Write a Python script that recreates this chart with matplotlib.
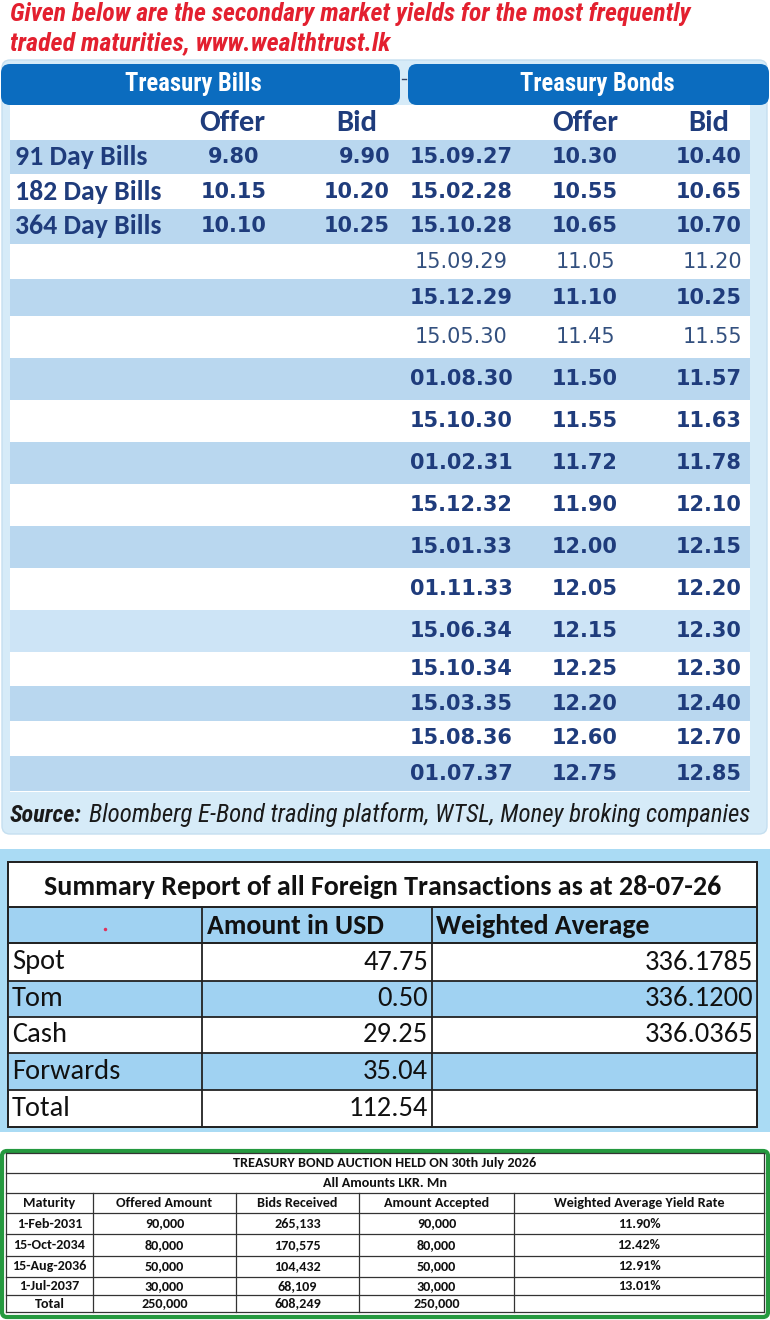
import matplotlib
matplotlib.use("Agg")
import matplotlib.pyplot as plt
from matplotlib.patches import Rectangle, FancyBboxPatch
from matplotlib.font_manager import FontProperties, findfont

# ---- data ----
bill_names = ["91 Day Bills", "182 Day Bills", "364 Day Bills"]
bill_offer = [9.80, 10.15, 10.10]
bill_bid = [9.90, 10.20, 10.25]

bond_dates = ["15.09.27", "15.02.28", "15.10.28", "15.09.29", "15.12.29", "15.05.30",
              "01.08.30", "15.10.30", "01.02.31", "15.12.32", "15.01.33", "01.11.33",
              "15.06.34", "15.10.34", "15.03.35", "15.08.36", "01.07.37"]
bond_offer = [10.30, 10.55, 10.65, 11.05, 11.10, 11.45, 11.50, 11.55, 11.72, 11.90,
              12.00, 12.05, 12.15, 12.25, 12.20, 12.60, 12.75]
bond_bid = [10.40, 10.65, 10.70, 11.20, 10.25, 11.55, 11.57, 11.63, 11.78, 12.10,
            12.15, 12.20, 12.30, 12.30, 12.40, 12.70, 12.85]

fx_types = ["Spot", "Tom", "Cash", "Forwards", "Total"]
fx_amount = [47.75, 0.50, 29.25, 35.04, 112.54]
fx_wavg = [336.1785, 336.1200, 336.0365, None, None]

auc_maturity = ["1-Feb-2031", "15-Oct-2034", "15-Aug-2036", "1-Jul-2037"]
auc_offered = [90000, 80000, 50000, 30000]
auc_bids = [265133, 170575, 104432, 68109]
auc_accepted = [90000, 80000, 50000, 30000]
auc_yield = [11.90, 12.42, 12.91, 13.01]
auc_total = [250000, 608249, 250000]
auc_headers = ["Maturity", "Offered Amount", "Bids Received", "Amount Accepted",
               "Weighted Average Yield Rate"]


def pick(*names):
    for n in names:
        try:
            findfont(FontProperties(family=n), fallback_to_default=False)
            return n
        except Exception:
            pass
    return "DejaVu Sans"


narrow = pick("Liberation Sans Narrow", "Roboto Condensed", "Liberation Sans")
calib = pick("Carlito", "Lato", "Open Sans")
wide = "DejaVu Sans"

navy = "#1f3c7c"
navy_light = "#33507f"
shade = "#b9d7ef"
shade_light = "#cde4f6"
panel = "#d6ebf8"
bar_blue = "#0b6cbf"

fig = plt.figure(figsize=(7.7, 13.2), dpi=100)
ax = fig.add_axes([0, 0, 1, 1])
ax.set_xlim(0, 770)
ax.set_ylim(1320, 0)
ax.axis("off")
renderer = fig.canvas.get_renderer()


def fit(x, y, s, width, **kw):
    t = ax.text(x, y, s, fontsize=10, **kw)
    w = t.get_window_extent(renderer).width
    t.set_fontsize(10 * width / w)
    return t


# ---- heading ----
red = "#e3202f"
fit(10, 14, "Given below are the secondary market yields for the most frequently", 682,
    color=red, family=narrow, weight="bold", style="italic", va="center")
fit(10, 43, "traded maturities, www.wealthtrust.lk", 380,
    color=red, family=narrow, weight="bold", style="italic", va="center")

# ---- secondary market panel ----
ax.add_patch(FancyBboxPatch((2, 60), 765, 774, boxstyle="round,pad=0,rounding_size=8",
                            fc=panel, ec="#c5dff0", lw=1))
ax.add_patch(Rectangle((10, 105), 740, 687, fc="white", ec="none"))
for x0, x1, xc, tw, label in [(1, 400, 193, 137, "Treasury Bills"),
                              (408, 769, 597, 155, "Treasury Bonds")]:
    ax.add_patch(FancyBboxPatch((x0, 64), x1 - x0, 41,
                                boxstyle="round,pad=0,rounding_size=9",
                                fc=bar_blue, ec="none"))
    fit(xc, 84, label, tw, color="white", family=narrow, weight="bold",
        ha="center", va="center")
ax.plot([402, 406], [79, 79], color="#334466", lw=1)

for x, s in [(232, "Offer"), (357, "Bid"), (585, "Offer"), (709, "Bid")]:
    ax.text(x, 123, s, color=navy, family=calib, weight="bold", fontsize=22,
            ha="center", va="center")

row_edges = [140, 174, 209, 244, 279, 316, 358, 400, 442, 484, 526, 568, 610, 652,
             686, 721, 756, 791]
plain_rows = {3, 5}
for i, d in enumerate(bond_dates):
    y0, y1 = row_edges[i], row_edges[i + 1]
    yc = (y0 + y1) / 2
    if i % 2 == 0:
        ax.add_patch(Rectangle((10, y0), 740, y1 - y0,
                               fc=shade_light if i == 12 else shade, ec="none"))
    w = "normal" if i in plain_rows else "bold"
    c = navy_light if i in plain_rows else navy
    ax.text(461, yc, d, color=c, family=wide, weight=w, fontsize=15,
            ha="center", va="center")
    ax.text(585, yc, f"{bond_offer[i]:.2f}", color=c, family=wide, weight=w,
            fontsize=15, ha="center", va="center")
    ax.text(742, yc, f"{bond_bid[i]:.2f}", color=c, family=wide, weight=w,
            fontsize=15, ha="right", va="center")

for i, name in enumerate(bill_names):
    yc = (row_edges[i] + row_edges[i + 1]) / 2
    ax.text(15, yc, name, color=navy, family=calib, weight="bold", fontsize=20,
            ha="left", va="center")
    ax.text(234, yc, f"{bill_offer[i]:.2f}", color=navy, family=wide, weight="bold",
            fontsize=15, ha="center", va="center")
    ax.text(390, yc, f"{bill_bid[i]:.2f}", color=navy, family=wide, weight="bold",
            fontsize=15, ha="right", va="center")

src = fit(10, 815, "Source:", 72, color="#1a1a1a", family=narrow, weight="bold",
          style="italic", va="center")
fit(89, 815, "Bloomberg E-Bond trading platform, WTSL, Money broking companies",
    752 - 89, color="#1a1a1a", family=narrow, style="italic", va="center")

# ---- FX summary ----
fx_blue = "#a0d2f2"
ink = "#111111"
ax.add_patch(Rectangle((0, 849), 770, 283, fc="#aadbf4", ec="none"))
fx_cols = [8, 202, 432, 757]
fx_rows = [862, 907, 943, 981, 1017, 1053, 1090, 1127]
ax.add_patch(Rectangle((8, 862), 749, 265, fc="white", ec="#222222", lw=1.3))
ax.add_patch(Rectangle((8, 907), 749, 36, fc=fx_blue, ec="#222222", lw=1.3))
for i in range(len(fx_types)):
    y0, y1 = fx_rows[i + 2], fx_rows[i + 3]
    if i % 2 == 1:
        ax.add_patch(Rectangle((8, y0), 749, y1 - y0, fc=fx_blue, ec="none"))
for y in fx_rows[1:-1]:
    ax.plot([8, 757], [y, y], color="#222222", lw=1.3)
for x in fx_cols[1:-1]:
    ax.plot([x, x], [907, 1127], color="#222222", lw=1.3)
ax.add_patch(Rectangle((8, 862), 749, 265, fc="none", ec="#222222", lw=1.3))
fit(383, 887, "Summary Report of all Foreign Transactions as at 28-07-26", 673,
    color=ink, family=calib, weight="bold", ha="center", va="center")
ax.text(207, 926, "Amount in USD", color=ink, family=calib, weight="bold",
        fontsize=20, va="center")
ax.text(436, 926, "Weighted Average", color=ink, family=calib, weight="bold",
        fontsize=20, va="center")
ax.plot([105], [929], marker="o", ms=2.5, color="#e0305a", mec="none")
for i, name in enumerate(fx_types):
    yc = (fx_rows[i + 2] + fx_rows[i + 3]) / 2
    ax.text(12, yc, name, color=ink, family=calib, fontsize=20.5, va="center")
    ax.text(428, yc, f"{fx_amount[i]:.2f}", color=ink, family=calib,
            fontsize=20.5, ha="right", va="center")
    if fx_wavg[i] is not None:
        ax.text(753, yc, f"{fx_wavg[i]:.4f}", color=ink, family=calib,
                fontsize=20.5, ha="right", va="center")

# ---- auction table ----
ax.add_patch(FancyBboxPatch((2, 1151), 766, 166, boxstyle="round,pad=0,rounding_size=5",
                            fc="white", ec="#25993f", lw=3))
ac = [6, 93, 236, 359, 514, 764]
ar = [1153, 1173, 1193, 1213, 1234, 1256, 1277, 1295, 1312]
lc = "#333333"
for y in ar:
    ax.plot([ac[0], ac[-1]], [y, y], color=lc, lw=0.9)
for x in ac:
    y_top = ar[2] if x not in (ac[0], ac[-1]) else ar[0]
    ax.plot([x, x], [y_top, ar[-1]], color=lc, lw=0.9)
afs = 10.2
ax.text(385, 1163, "TREASURY BOND AUCTION HELD ON 30th July 2026", family=calib,
        weight="bold", fontsize=afs, ha="center", va="center", color=ink)
ax.text(385, 1183, "All Amounts LKR. Mn", family=calib, weight="bold", fontsize=afs,
        ha="center", va="center", color=ink)
centers = [(ac[j] + ac[j + 1]) / 2 for j in range(5)]
for j, h in enumerate(auc_headers):
    ax.text(centers[j], 1203, h, family=calib, weight="bold", fontsize=afs,
            ha="center", va="center", color=ink)
for i, m in enumerate(auc_maturity):
    yc = (ar[i + 3] + ar[i + 4]) / 2
    vals = [m, f"{auc_offered[i]:,}", f"{auc_bids[i]:,}", f"{auc_accepted[i]:,}",
            f"{auc_yield[i]:.2f}%"]
    for j, v in enumerate(vals):
        ax.text(centers[j], yc, v, family=calib, weight="bold", fontsize=afs,
                ha="center", va="center", color=ink)
yc = (ar[7] + ar[8]) / 2
for j, v in enumerate(["Total"] + [f"{t:,}" for t in auc_total]):
    ax.text(centers[j], yc, v, family=calib, weight="bold", fontsize=afs,
            ha="center", va="center", color=ink)

fig.savefig("out.png", dpi=100)
